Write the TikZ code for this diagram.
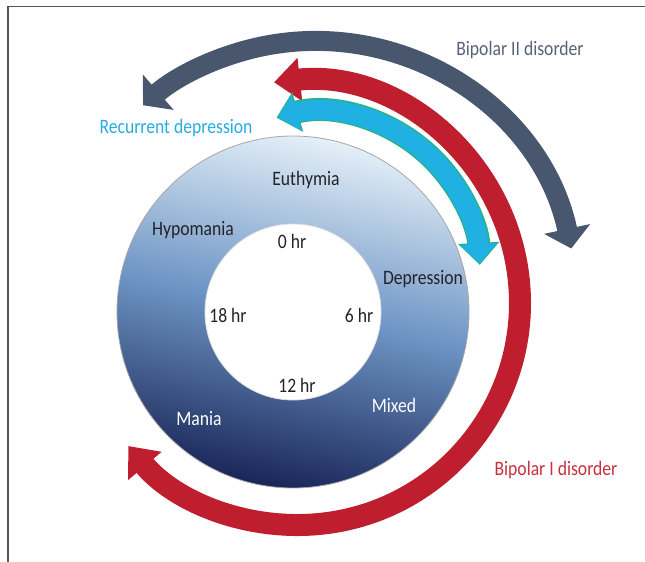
\documentclass[tikz,border=0pt]{standalone}
\usepackage{fontspec}
\setmainfont{Carlito}[FakeStretch=0.86]
\usepackage{tikz}
\usetikzlibrary{arrows.meta}
\definecolor{moodnavy}{RGB}{72,87,110}
\definecolor{moodred}{RGB}{190,30,45}
\definecolor{moodcyan}{RGB}{32,176,226}
\definecolor{moodgreen}{RGB}{40,178,140}
\definecolor{ringtop}{RGB}{228,239,248}
\definecolor{ringmid}{RGB}{108,148,196}
\definecolor{ringbot}{RGB}{26,38,88}
\definecolor{textdark}{RGB}{35,35,40}
\definecolor{labelgray}{RGB}{88,98,118}
\definecolor{labelcyan}{RGB}{40,172,226}
\definecolor{labelred}{RGB}{200,48,60}
\definecolor{framegray}{RGB}{85,85,85}

\begin{document}
\begin{tikzpicture}[
  x=1pt, y=1pt,
  font=\fontsize{20.5}{24}\selectfont,
  state/.style={inner sep=0pt, text=textdark},
  darkstate/.style={inner sep=0pt, text=white},
  hour/.style={inner sep=0pt, text=textdark},
  label/.style={inner sep=0pt},
  navyarrow/.style={draw=moodnavy, line width=20pt,
    arrows={Triangle[width=46pt,length=20pt]-Triangle[width=46pt,length=20pt]}},
  redarrow/.style={draw=moodred, line width=22pt,
    arrows={Triangle[width=42pt,length=26pt]-Triangle[width=42pt,length=26pt]}},
  cyanedge/.style={draw=moodgreen, line width=23pt,
    arrows={Triangle[width=40pt,length=22pt]-Triangle[width=40pt,length=22pt]}},
  cyanarrow/.style={draw=moodcyan, line width=20pt,
    arrows={Triangle[width=36pt,length=19pt]-Triangle[width=36pt,length=19pt]}}
]
\useasboundingbox (-293,-250) rectangle (352,312);

% Frame
\draw[framegray, line width=1.5pt] (-285,-250) -- (-285,305.5) -- (352,305.5);

% Ring
\shade[top color=ringtop, bottom color=ringbot, middle color=ringmid, shading angle=-12]
  (0,0) circle[radius=176];
\fill[white] (0,0) circle[radius=88];
\draw[gray!70, line width=0.8pt] (0,0) circle[radius=176];
\draw[gray!25, line width=0.8pt] (0,0) circle[radius=88];

% Cycle arrows
\draw[navyarrow] ([shift={(22,9)}]12:262) arc[start angle=12, end angle=131, radius=262];
\draw[redarrow] ([shift={(5,9)}]96.2:222) arc[start angle=96.2, end angle=-139.9, radius=222];
\draw[cyanedge] ([shift={(26,39)}]105.3:161) arc[start angle=105.3, end angle=2.9, radius=161];
\draw[cyanarrow] ([shift={(26,39)}]104.7:161) arc[start angle=104.7, end angle=3.5, radius=161];

% Mood states
\node[state] (euthymia) at (13,132) {Euthymia};
\node[state] (hypomania) at (-100,82) {Hypomania};
\node[state] (depression) at (130,33) {Depression};
\node[darkstate] (mania) at (-94,-107) {Mania};
\node[darkstate] (mixed) at (101,-93) {Mixed};

% Hours
\node[hour] (hr0) at (-1,71) {0 hr};
\node[hour] (hr6) at (66,-3) {6 hr};
\node[hour] (hr12) at (4,-73) {12 hr};
\node[hour] (hr18) at (-65,-3) {18 hr};

% Disorder labels
\node[label, text=labelgray] (bipolarII) at (227,262) {Bipolar II disorder};
\node[label, text=labelcyan] (recurrent) at (-117,184) {Recurrent depression};
\node[label, text=labelred] (bipolarI) at (263,-158) {Bipolar I disorder};

\end{tikzpicture}
\end{document}
